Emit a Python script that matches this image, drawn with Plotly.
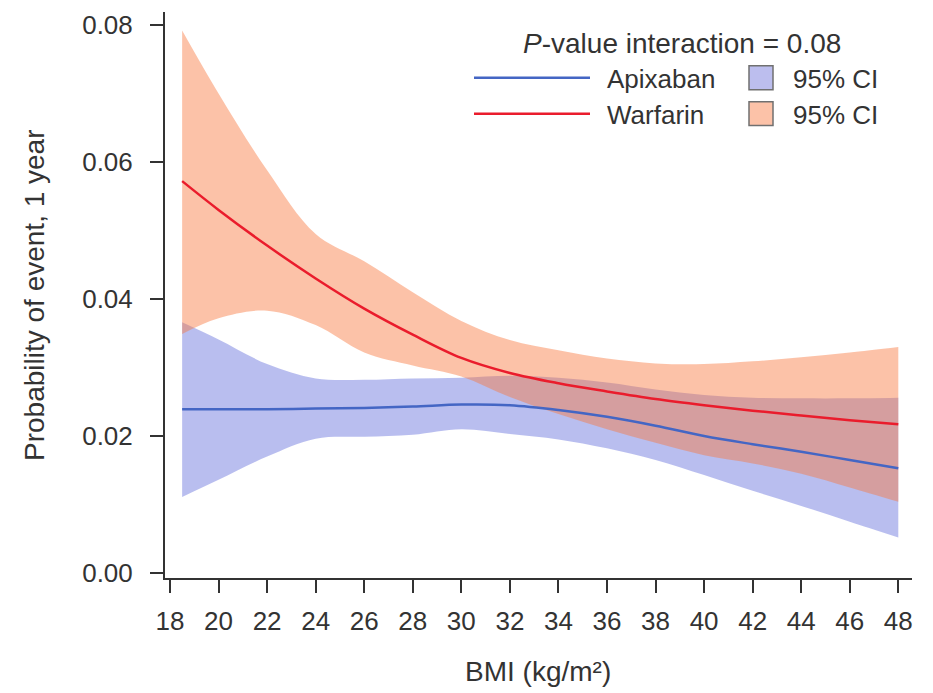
import plotly.graph_objects as go

# BMI grid (kg/m²) at which the spline estimates are tabulated
bmi = [18.5, 20, 22, 24, 26, 28, 30, 32, 34, 36, 38, 40, 42, 44, 46, 48]

# Apixaban: 1-year event probability and 95% CI
apix_est = [0.0239, 0.0239, 0.0239, 0.0240, 0.0241, 0.0243, 0.0246, 0.0245,
            0.0238, 0.0228, 0.0215, 0.0200, 0.0188, 0.0177, 0.0165, 0.0153]
apix_lo = [0.0111, 0.0136, 0.0170, 0.0196, 0.0199, 0.0202, 0.0210, 0.0203,
           0.0195, 0.0182, 0.0165, 0.0143, 0.0120, 0.0098, 0.0075, 0.0052]
apix_hi = [0.0366, 0.0341, 0.0305, 0.0284, 0.0282, 0.0284, 0.0285, 0.0288,
           0.0285, 0.0278, 0.0268, 0.0260, 0.0256, 0.0255, 0.0255, 0.0256]

# Warfarin: 1-year event probability and 95% CI
warf_est = [0.0572, 0.0530, 0.0478, 0.0430, 0.0386, 0.0348, 0.0314, 0.0292,
            0.0277, 0.0265, 0.0254, 0.0245, 0.0237, 0.0230, 0.0223, 0.0217]
warf_lo = [0.0349, 0.0372, 0.0383, 0.0362, 0.0322, 0.0303, 0.0287, 0.0257,
           0.0232, 0.0210, 0.0190, 0.0172, 0.0160, 0.0145, 0.0125, 0.0104]
warf_hi = [0.0792, 0.0700, 0.0588, 0.0495, 0.0455, 0.0410, 0.0368, 0.0340,
           0.0325, 0.0313, 0.0306, 0.0305, 0.0309, 0.0315, 0.0322, 0.0330]

x_ticks = list(range(18, 49, 2))
y_ticks = [0.00, 0.02, 0.04, 0.06, 0.08]

BLUE_LINE = "#4466c4"
RED_LINE = "#ea1c2c"
BLUE_BAND = "rgba(100,110,220,0.45)"
ORANGE_BAND = "rgba(249,120,62,0.45)"
TEXT = "#333333"
FONT = "Liberation Sans, Arial, sans-serif"

fig = go.Figure()

def band(lo, hi, color):
    fig.add_trace(go.Scatter(x=bmi, y=lo, mode="lines", line=dict(width=0, shape="spline"),
                             hoverinfo="skip", showlegend=False))
    fig.add_trace(go.Scatter(x=bmi, y=hi, mode="lines", line=dict(width=0, shape="spline"),
                             fill="tonexty", fillcolor=color, hoverinfo="skip", showlegend=False))

band(apix_lo, apix_hi, BLUE_BAND)
band(warf_lo, warf_hi, ORANGE_BAND)

fig.add_trace(go.Scatter(x=bmi, y=apix_est, mode="lines", name="Apixaban",
                         line=dict(color=BLUE_LINE, width=2.5, shape="spline"), showlegend=False))
fig.add_trace(go.Scatter(x=bmi, y=warf_est, mode="lines", name="Warfarin",
                         line=dict(color=RED_LINE, width=2.5, shape="spline"), showlegend=False))

# plot area geometry in pixels (used for placing the legend block)
W, H = 933, 693
L, R, T, B = 165, 21, 10, 115
pw, ph = W - L - R, H - T - B

def px(xp):
    return (xp - L) / pw

def py(yp):
    return (H - B - yp) / ph

# hand-built legend: line samples, swatches, labels
for yy, col in [(76, BLUE_LINE), (112, RED_LINE)]:
    fig.add_shape(type="line", xref="paper", yref="paper",
                  x0=px(474), x1=px(590), y0=py(yy), y1=py(yy),
                  line=dict(color=col, width=2.5))
for yy, col in [(76, "rgb(188,190,238)"), (112, "rgb(252,194,168)")]:
    fig.add_shape(type="rect", xref="paper", yref="paper",
                  x0=px(749), x1=px(773), y0=py(yy - 12), y1=py(yy + 12),
                  fillcolor=col, line=dict(color="#707070", width=1.5))

ann = [
    ("<i>P</i>-value interaction = 0.08", 521, 42, 28),
    ("Apixaban", 605, 77, 26),
    ("Warfarin", 605, 113, 26),
    ("95% CI", 791, 77, 26),
    ("95% CI", 791, 113, 26),
]
for txt, xx, yy, fs in ann:
    fig.add_annotation(text=txt, xref="paper", yref="paper", x=px(xx), y=py(yy),
                       xanchor="left", yanchor="middle", showarrow=False,
                       font=dict(family=FONT, size=fs, color=TEXT))

# axis titles
fig.add_annotation(text="BMI (kg/m²)", xref="paper", yref="paper",
                   x=px(538), y=py(672), xanchor="center", yanchor="middle",
                   showarrow=False, font=dict(family=FONT, size=28, color=TEXT))
fig.add_annotation(text="Probability of event, 1 year", xref="paper", yref="paper",
                   x=px(34), y=py(294), xanchor="center", yanchor="middle", textangle=-90,
                   showarrow=False, font=dict(family=FONT, size=28, color=TEXT))

fig.update_layout(
    width=W, height=H,
    margin=dict(l=L, r=R, t=T, b=B, pad=0),
    paper_bgcolor="white", plot_bgcolor="white",
    font=dict(family=FONT, size=26, color=TEXT),
    showlegend=False,
)
fig.update_xaxes(range=[17.794, 48.564], tickvals=x_ticks, ticktext=[str(v) for v in x_ticks],
                 showgrid=False, zeroline=False, showline=True, linewidth=2, linecolor=TEXT,
                 ticks="outside", ticklen=13, tickwidth=2, tickcolor=TEXT,
                 tickfont=dict(family=FONT, size=26, color=TEXT), ticklabelstandoff=6)
fig.update_yaxes(range=[-0.000727, 0.08189], tickvals=y_ticks,
                 ticktext=[f"{v:.2f}" for v in y_ticks],
                 showgrid=False, zeroline=False, showline=True, linewidth=2, linecolor=TEXT,
                 ticks="outside", ticklen=13, tickwidth=2, tickcolor=TEXT,
                 tickfont=dict(family=FONT, size=26, color=TEXT), ticklabelstandoff=12)

fig.write_html("out.html")
